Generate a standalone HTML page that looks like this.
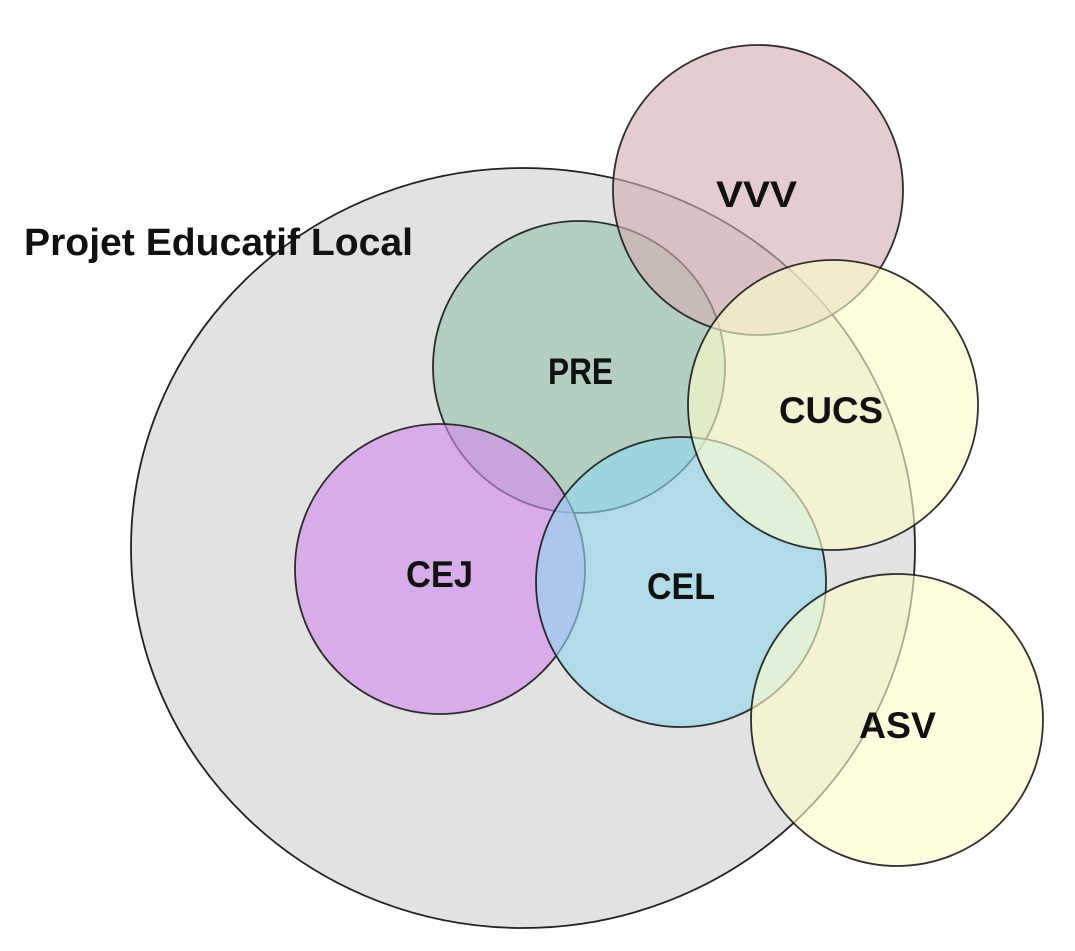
<!DOCTYPE html>
<html>
<head>
<meta charset="utf-8">
<style>
html,body{margin:0;padding:0;background:#ffffff;}
svg{display:block;}
text{font-family:"Liberation Sans",Arial,sans-serif;font-weight:bold;fill:#111;}
</style>
</head>
<body>
<svg width="1075" height="951" viewBox="0 0 1075 951" xmlns="http://www.w3.org/2000/svg">
  <rect width="1075" height="951" fill="#ffffff"/>
  <!-- big circle -->
  <ellipse cx="523" cy="548" rx="392" ry="380" fill="#e2e2e2" stroke="#222" stroke-width="1.8"/>
  <!-- PRE -->
  <circle cx="579" cy="367" r="146" fill="#96c3ad" fill-opacity="0.62"/>
  <circle cx="579" cy="367" r="146" fill="none" stroke="#1a1a1a" stroke-width="1.8" stroke-opacity="0.9"/>
  <!-- CEJ -->
  <circle cx="440" cy="569" r="145" fill="#d38bee" fill-opacity="0.62"/>
  <circle cx="440" cy="569" r="145" fill="none" stroke="#1a1a1a" stroke-width="1.8" stroke-opacity="0.9"/>
  <!-- CEL -->
  <circle cx="681" cy="582" r="145" fill="#92d8ee" fill-opacity="0.62"/>
  <circle cx="681" cy="582" r="145" fill="none" stroke="#1a1a1a" stroke-width="1.8" stroke-opacity="0.9"/>
  <!-- VVV -->
  <circle cx="758" cy="190" r="145" fill="#d5acb1" fill-opacity="0.62"/>
  <circle cx="758" cy="190" r="145" fill="none" stroke="#1a1a1a" stroke-width="1.8" stroke-opacity="0.9"/>
  <!-- CUCS -->
  <circle cx="833" cy="405" r="145" fill="#fdfdcb" fill-opacity="0.62"/>
  <circle cx="833" cy="405" r="145" fill="none" stroke="#1a1a1a" stroke-width="1.8" stroke-opacity="0.9"/>
  <!-- ASV -->
  <circle cx="897" cy="720" r="146" fill="#fdfdcb" fill-opacity="0.62"/>
  <circle cx="897" cy="720" r="146" fill="none" stroke="#1a1a1a" stroke-width="1.8" stroke-opacity="0.9"/>

  <text x="24" y="255" font-size="38" textLength="389" lengthAdjust="spacingAndGlyphs">Projet Educatif Local</text>
  <text x="716" y="207" font-size="37" textLength="81" lengthAdjust="spacingAndGlyphs">VVV</text>
  <text x="548" y="384" font-size="37" textLength="65" lengthAdjust="spacingAndGlyphs">PRE</text>
  <text x="779" y="423" font-size="37" textLength="104" lengthAdjust="spacingAndGlyphs">CUCS</text>
  <text x="406" y="587" font-size="37" textLength="67" lengthAdjust="spacingAndGlyphs">CEJ</text>
  <text x="647" y="599" font-size="37" textLength="68" lengthAdjust="spacingAndGlyphs">CEL</text>
  <text x="859" y="738" font-size="37" textLength="77" lengthAdjust="spacingAndGlyphs">ASV</text>
</svg>
</body>
</html>
